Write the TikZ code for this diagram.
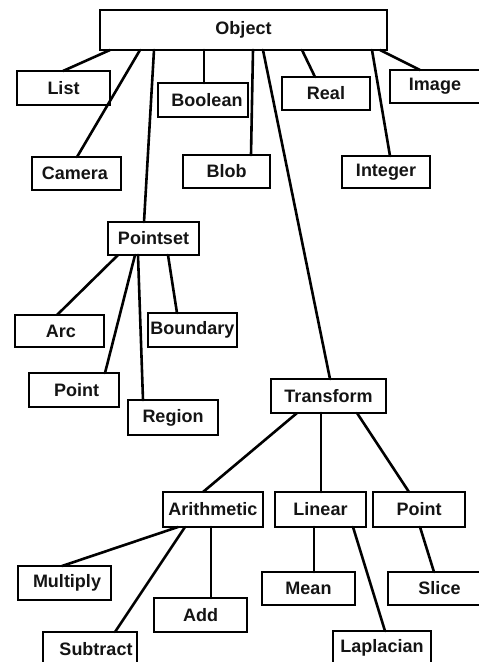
\documentclass[tikz,border=0pt]{standalone}
\usepackage{fontspec}
\setmainfont{Liberation Sans}
\begin{document}
\begin{tikzpicture}[x=1pt,y=-1pt,
  cls/.style={draw=black, line width=2.7pt, fill=white, inner sep=0pt, outer sep=0pt,
    font=\fontsize{18}{20}\selectfont\bfseries, text=black!92, minimum height=34pt},
  link/.style={line width=2.6pt, line cap=round}]
\useasboundingbox (0,0) rectangle (479,662);
\clip (0,0) rectangle (479,662);
\fill[white] (0,0) rectangle (479,662);

% root
\node[cls, minimum width=287pt, minimum height=40pt] (obj) at (243.5,30) {Object};

% first level
\node[cls, minimum width=93pt] (list)  at (63.5,88)  {List};
\node[cls, minimum width=90pt] (bool)  at (203,100)  {\hspace*{8pt}Boolean};
\node[cls, minimum width=88pt, minimum height=33pt] (real)  at (326,93.5) {Real};
\node[cls, minimum width=90pt, minimum height=33pt] (image) at (435,86.5) {Image};
\node[cls, minimum width=89pt, minimum height=33pt] (cam)   at (76.5,173.5) {Camera\hspace*{3pt}};
\node[cls, minimum width=87pt, minimum height=33pt] (blob)  at (226.5,171.5) {Blob};
\node[cls, minimum width=88pt, minimum height=32pt] (int)   at (386,172) {Integer};
\node[cls, minimum width=91pt, minimum height=33pt] (pset)  at (153.5,238.5) {Pointset};
\node[cls, minimum width=115pt] (trans) at (328.5,396) {Transform};

% point sets
\node[cls, minimum width=89pt, minimum height=32pt] (arc)   at (59.5,331) {\hspace*{3pt}Arc};
\node[cls, minimum width=89pt] (bound) at (192.5,330) {Boundary};
\node[cls, minimum width=90pt] (pnt)   at (74,390) {\hspace*{5pt}Point};
\node[cls, minimum width=90pt, minimum height=35pt] (region) at (173,417.5) {Region};

% transforms
\node[cls, minimum width=100pt, minimum height=35pt] (arith) at (213,509.5) {Arithmetic};
\node[cls, minimum width=91pt, minimum height=35pt] (lin)   at (320.5,509.5) {Linear};
\node[cls, minimum width=92pt, minimum height=35pt] (ptr)   at (419,509.5) {Point};

\node[cls, minimum width=93pt] (mult) at (64.5,583) {\hspace*{5pt}Multiply};
\node[cls, minimum width=93pt] (add)  at (200.5,615) {Add};
\node[cls, minimum width=94pt] (sub)  at (90,649) {\hspace*{12pt}Subtract};
\node[cls, minimum width=93pt, minimum height=33pt] (mean)  at (308.5,588.5) {Mean};
\node[cls, minimum width=93pt, minimum height=33pt] (slice) at (434.5,588.5) {\hspace*{10pt}Slice};
\node[cls, minimum width=98pt] (lap)  at (382,648) {Laplacian};

% links from the root
\draw[link] ([xshift=10pt]obj.south west)  -- ([xshift=46pt]list.north west);
\draw[link] ([xshift=40pt]obj.south west)  -- ([xshift=45pt]cam.north west);
\draw[link] ([xshift=54pt]obj.south west)  -- ([xshift=36pt]pset.north west);
\draw[link] ([xshift=104pt]obj.south west) -- ([xshift=46pt]bool.north west);
\draw[link] ([xshift=153pt]obj.south west) -- ([xshift=68pt]blob.north west);
\draw[link] ([xshift=163pt]obj.south west) -- ([xshift=59pt]trans.north west);
\draw[link] ([xshift=202pt]obj.south west) -- ([xshift=33pt]real.north west);
\draw[link] ([xshift=272pt]obj.south west) -- ([xshift=48pt]int.north west);
\draw[link] ([xshift=280pt]obj.south west) -- ([xshift=30pt]image.north west);

% links from Pointset
\draw[link] ([xshift=10pt]pset.south west) -- ([xshift=42pt]arc.north west);
\draw[link] ([xshift=27pt]pset.south west) -- ([xshift=76pt]pnt.north west);
\draw[link] ([xshift=30pt]pset.south west) -- ([xshift=15pt]region.north west);
\draw[link] ([xshift=60pt]pset.south west) -- ([xshift=29pt]bound.north west);

% links from Transform
\draw[link] ([xshift=26pt]trans.south west) -- ([xshift=40pt]arith.north west);
\draw[link] ([xshift=50pt]trans.south west) -- ([xshift=46pt]lin.north west);
\draw[link] ([xshift=86pt]trans.south west) -- ([xshift=36pt]ptr.north west);

% links from the transform kinds
\draw[link] ([xshift=15pt]arith.south west) -- ([xshift=44pt]mult.north west);
\draw[link] ([xshift=22pt]arith.south west) -- ([xshift=72pt]sub.north west);
\draw[link] ([xshift=48pt]arith.south west) -- ([xshift=57pt]add.north west);
\draw[link] ([xshift=39pt]lin.south west)   -- ([xshift=52pt]mean.north west);
\draw[link] ([xshift=78pt]lin.south west)   -- ([xshift=52pt]lap.north west);
\draw[link] ([xshift=47pt]ptr.south west)   -- ([xshift=46pt]slice.north west);
\end{tikzpicture}
\end{document}
